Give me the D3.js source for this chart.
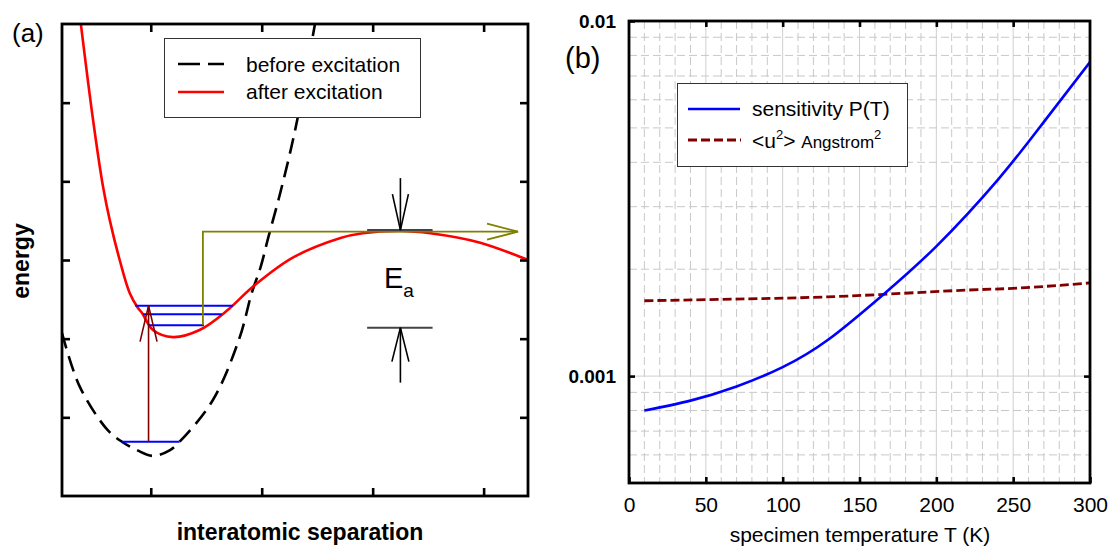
<!DOCTYPE html>
<html>
<head>
<meta charset="utf-8">
<script src="https://cdn.jsdelivr.net/npm/d3@7"></script>
<style>
  body { margin: 0; background: #fff; }
  svg { display: block; font-family: Arial, "Liberation Sans", sans-serif; }
</style>
</head>
<body>
<div id="chart"></div>
<script>
// ---- panel (a): potential curves, in arbitrary units ----
const beforeX = [0.20, 0.36, 0.61, 0.74, 0.88, 1.02, 1.17, 1.26, 1.56, 1.80, 1.91, 1.99, 2.06, 2.15, 2.24, 2.32, 2.48];
const beforeY = [2.07, 1.39, 0.84, 0.69, 0.58, 0.51, 0.58, 0.69, 1.22, 2.01, 2.58, 2.91, 3.29, 3.76, 4.27, 4.78, 6.00];
const afterX = [0.37, 0.48, 0.57, 0.63, 0.72, 0.81, 0.88, 0.92, 1.02, 1.20, 1.44, 1.69, 1.92, 2.28, 2.71, 2.91, 3.25, 3.52, 3.97, 4.40];
const afterY = [6.00, 4.78, 3.93, 3.51, 3.00, 2.58, 2.40, 2.33, 2.11, 2.02, 2.11, 2.36, 2.66, 3.03, 3.28, 3.34, 3.37, 3.34, 3.22, 3.00];
// vibrational levels
const levelX1 = [0.86, 0.93, 0.98, 0.74];
const levelX2 = [1.74, 1.64, 1.48, 1.26];
const levelY = [2.42, 2.31, 2.17, 0.69];
// excitation arrow, escape path, activation energy
const exciteX = 0.98, exciteFrom = 0.69, exciteTo = 2.42;
const escapeX = 1.47, escapeFrom = 2.17, escapeTop = 3.36, escapeEnd = 4.31;
const eaX = 3.25, eaTop = 3.38, eaBottom = 2.14, eaBarX = [2.95, 3.54];
const tickA = [1, 2, 3, 4], tickAy = [1, 2, 3, 4, 5];

// ---- panel (b): temperature dependence ----
const sensT = [10, 40, 70, 100, 130, 165, 200, 240, 270, 300];
const sensP = [0.00080, 0.000853, 0.000935, 0.00106, 0.00127, 0.00169, 0.00232, 0.00357, 0.0052, 0.00766];
const u2T = [10, 77, 142, 211, 254, 300];
const u2V = [0.00163, 0.00165, 0.00168, 0.00174, 0.00177, 0.00183];
const tempTicks = [0, 50, 100, 150, 200, 250, 300];
const logTicks = [0.001, 0.01];

const svg = d3.select("#chart").append("svg")
    .attr("width", 1108)
    .attr("height", 548);

// ================= panel (a) =================
const xL = d3.scaleLinear().domain([0.2, 4.4]).range([62, 528]);
const yL = d3.scaleLinear().domain([0, 6]).range([496, 24]);

svg.append("clipPath").attr("id", "clipA").append("rect")
    .attr("x", 62).attr("y", 24).attr("width", 466).attr("height", 472);

const lineA = d3.line()
    .curve(d3.curveCatmullRom.alpha(0.5))
    .x(d => xL(d[0])).y(d => yL(d[1]));

const gA = svg.append("g").attr("clip-path", "url(#clipA)");

gA.append("path")
    .datum(beforeX.map((x, i) => [x, beforeY[i]]))
    .attr("d", lineA)
    .attr("fill", "none").attr("stroke", "#000")
    .attr("stroke-width", 2.6).attr("stroke-dasharray", "16,8");

gA.append("path")
    .datum(afterX.map((x, i) => [x, afterY[i]]))
    .attr("d", lineA)
    .attr("fill", "none").attr("stroke", "#ff0000")
    .attr("stroke-width", 2.6);

gA.selectAll(".level")
    .data(levelY)
    .enter().append("line")
    .attr("class", "level")
    .attr("x1", (d, i) => xL(levelX1[i]))
    .attr("x2", (d, i) => xL(levelX2[i]))
    .attr("y1", d => yL(d)).attr("y2", d => yL(d))
    .attr("stroke", "#0000ff").attr("stroke-width", 2);

// open V arrowhead pointing at (x,y), direction given by dx,dy (unit)
function arrowHead(g, x, y, dx, dy, len, half, color, w) {
    const bx = x - dx * len, by = y - dy * len;
    g.append("path")
        .attr("d", `M${bx - dy * half},${by + dx * half}L${x},${y}L${bx + dy * half},${by - dx * half}`)
        .attr("fill", "none").attr("stroke", color).attr("stroke-width", w);
}

// excitation arrow
gA.append("line")
    .attr("x1", xL(exciteX)).attr("x2", xL(exciteX))
    .attr("y1", yL(exciteFrom)).attr("y2", yL(exciteTo))
    .attr("stroke", "#800000").attr("stroke-width", 1.6);
arrowHead(gA, xL(exciteX), yL(exciteTo), 0, -1, 36, 8.5, "#800000", 1.6);

// escape path
gA.append("path")
    .attr("d", `M${xL(escapeX)},${yL(escapeFrom)}V${yL(escapeTop)}H${xL(escapeEnd)}`)
    .attr("fill", "none").attr("stroke", "#808000").attr("stroke-width", 1.8);
arrowHead(gA, xL(escapeEnd), yL(escapeTop), 1, 0, 31, 8, "#808000", 1.8);

// activation energy markers
[eaTop, eaBottom].forEach(v => {
    gA.append("line")
        .attr("x1", xL(eaBarX[0])).attr("x2", xL(eaBarX[1]))
        .attr("y1", yL(v)).attr("y2", yL(v))
        .attr("stroke", "#444").attr("stroke-width", 2);
});
gA.append("line")
    .attr("x1", xL(eaX)).attr("x2", xL(eaX))
    .attr("y1", yL(eaTop) - 52).attr("y2", yL(eaTop))
    .attr("stroke", "#000").attr("stroke-width", 1.6);
arrowHead(gA, xL(eaX), yL(eaTop), 0, 1, 36, 8, "#000", 1.6);
gA.append("line")
    .attr("x1", xL(eaX)).attr("x2", xL(eaX))
    .attr("y1", yL(eaBottom) + 55).attr("y2", yL(eaBottom))
    .attr("stroke", "#000").attr("stroke-width", 1.6);
arrowHead(gA, xL(eaX), yL(eaBottom), 0, -1, 34, 8.5, "#000", 1.6);

const eaText = svg.append("text")
    .attr("x", 384).attr("y", 288)
    .attr("font-size", 29).attr("fill", "#000");
eaText.append("tspan").text("E");
eaText.append("tspan").attr("font-size", 19).attr("dy", 9).text("a");

// ticks and frame
function noDomain(g) { g.select(".domain").remove(); }
const tickStyle = g => g.selectAll(".tick line").attr("stroke", "#000").attr("stroke-width", 2.6);
svg.append("g").attr("transform", "translate(0,496)")
    .call(d3.axisBottom(xL).tickValues(tickA).tickSize(-8).tickFormat(""))
    .call(noDomain).call(tickStyle);
svg.append("g").attr("transform", "translate(0,24)")
    .call(d3.axisTop(xL).tickValues(tickA).tickSize(-8).tickFormat(""))
    .call(noDomain).call(tickStyle);
svg.append("g").attr("transform", "translate(62,0)")
    .call(d3.axisLeft(yL).tickValues(tickAy).tickSize(-8).tickFormat(""))
    .call(noDomain).call(tickStyle);
svg.append("g").attr("transform", "translate(528,0)")
    .call(d3.axisRight(yL).tickValues(tickAy).tickSize(-8).tickFormat(""))
    .call(noDomain).call(tickStyle);
svg.append("rect")
    .attr("x", 62).attr("y", 24).attr("width", 466).attr("height", 472)
    .attr("fill", "none").attr("stroke", "#000").attr("stroke-width", 2.8);

// legend (a)
const legA = svg.append("g");
legA.append("rect")
    .attr("x", 164.5).attr("y", 38.5).attr("width", 256).attr("height", 79)
    .attr("fill", "#fff").attr("stroke", "#333").attr("stroke-width", 1);
legA.append("line").attr("x1", 178).attr("x2", 224).attr("y1", 64).attr("y2", 64)
    .attr("stroke", "#000").attr("stroke-width", 2.6).attr("stroke-dasharray", "22,8");
legA.append("line").attr("x1", 178).attr("x2", 224).attr("y1", 92).attr("y2", 92)
    .attr("stroke", "#ff0000").attr("stroke-width", 2.6);
legA.append("text").attr("x", 246).attr("y", 72).attr("font-size", 21).text("before excitation");
legA.append("text").attr("x", 246).attr("y", 99).attr("font-size", 21).text("after excitation");

svg.append("text").attr("x", 12).attr("y", 42).attr("font-size", 26).text("(a)");
svg.append("text")
    .attr("transform", "translate(29,261) rotate(-90)")
    .attr("text-anchor", "middle").attr("font-size", 23).attr("font-weight", "bold")
    .text("energy");
svg.append("text")
    .attr("x", 300).attr("y", 540)
    .attr("text-anchor", "middle").attr("font-size", 23).attr("font-weight", "bold")
    .text("interatomic separation");

// ================= panel (b) =================
const xR = d3.scaleLinear().domain([0, 300]).range([629, 1090]);
const yR = d3.scaleLog().domain([0.0005, 0.01]).range([483, 21]);

const grid = svg.append("g");
d3.range(10, 300, 10).forEach(t => {
    grid.append("line")
        .attr("x1", xR(t)).attr("x2", xR(t)).attr("y1", 21).attr("y2", 483)
        .attr("stroke", t % 50 === 0 ? "#cfcfcf" : "#c8c8c8")
        .attr("stroke-width", 1)
        .attr("stroke-dasharray", t % 50 === 0 ? null : "8,4");
});
const minorV = d3.range(6, 10).map(k => k * 1e-4).concat(d3.range(2, 10).map(k => k * 1e-3));
minorV.concat([0.001]).forEach(v => {
    grid.append("line")
        .attr("x1", 629).attr("x2", 1090).attr("y1", yR(v)).attr("y2", yR(v))
        .attr("stroke", v === 0.001 ? "#cfcfcf" : "#c8c8c8")
        .attr("stroke-width", 1)
        .attr("stroke-dasharray", v === 0.001 ? null : "8,4");
});

svg.append("clipPath").attr("id", "clipB").append("rect")
    .attr("x", 629).attr("y", 21).attr("width", 461).attr("height", 462);
const gB = svg.append("g").attr("clip-path", "url(#clipB)");

const lineB = d3.line()
    .curve(d3.curveNatural)
    .x(d => xR(d[0])).y(d => yR(d[1]));

gB.append("path")
    .datum(u2T.map((t, i) => [t, u2V[i]]))
    .attr("d", lineB)
    .attr("fill", "none").attr("stroke", "#800000")
    .attr("stroke-width", 2.8).attr("stroke-dasharray", "9,4");
gB.append("path")
    .datum(sensT.map((t, i) => [t, sensP[i]]))
    .attr("d", lineB)
    .attr("fill", "none").attr("stroke", "#0000ff")
    .attr("stroke-width", 2.6);

const tickStyleB = g => g.selectAll(".tick line").attr("stroke", "#000").attr("stroke-width", 2.6);
svg.append("g").attr("transform", "translate(0,483)")
    .call(d3.axisBottom(xR).tickValues(tempTicks).tickSize(-6).tickPadding(14))
    .call(noDomain).call(tickStyleB)
    .call(g => g.selectAll("text").attr("font-size", 21).attr("font-family", "Arial, 'Liberation Sans', sans-serif").attr("fill", "#000"));
svg.append("g").attr("transform", "translate(0,21)")
    .call(d3.axisTop(xR).tickValues(tempTicks.slice(1, -1)).tickSize(-6).tickFormat(""))
    .call(noDomain).call(tickStyleB);
svg.append("g").attr("transform", "translate(629,0)")
    .call(d3.axisLeft(yR).tickValues(logTicks).tickSize(-6).tickPadding(13).tickFormat(d => String(d)))
    .call(noDomain).call(tickStyleB)
    .call(g => g.selectAll("text").attr("font-size", 19).attr("font-weight", "bold")
        .attr("font-family", "Arial, 'Liberation Sans', sans-serif").attr("fill", "#000"));
svg.append("g").attr("transform", "translate(1090,0)")
    .call(d3.axisRight(yR).tickValues([0.001]).tickSize(-6).tickFormat(""))
    .call(noDomain).call(tickStyleB);
svg.append("rect")
    .attr("x", 629).attr("y", 21).attr("width", 461).attr("height", 462)
    .attr("fill", "none").attr("stroke", "#000").attr("stroke-width", 2.8);

// legend (b)
const legB = svg.append("g");
legB.append("rect")
    .attr("x", 677.5).attr("y", 83.5).attr("width", 230).attr("height", 83)
    .attr("fill", "#fff").attr("stroke", "#333").attr("stroke-width", 1);
legB.append("line").attr("x1", 688).attr("x2", 740).attr("y1", 109).attr("y2", 109)
    .attr("stroke", "#0000ff").attr("stroke-width", 2.6);
legB.append("line").attr("x1", 688).attr("x2", 741).attr("y1", 140).attr("y2", 140)
    .attr("stroke", "#800000").attr("stroke-width", 2.8).attr("stroke-dasharray", "9,4");
legB.append("text").attr("x", 752).attr("y", 116).attr("font-size", 21).text("sensitivity P(T)");
const u2Text = legB.append("text").attr("x", 752).attr("y", 148).attr("font-size", 21);
u2Text.append("tspan").text("<u");
u2Text.append("tspan").attr("font-size", 13).attr("dy", -9).text("2");
u2Text.append("tspan").attr("dy", 9).text("> ");
u2Text.append("tspan").attr("font-size", 17).text("Angstrom");
u2Text.append("tspan").attr("font-size", 13).attr("dy", -9).text("2");

svg.append("text").attr("x", 565).attr("y", 68).attr("font-size", 29).text("(b)");
svg.append("text")
    .attr("x", 860).attr("y", 542)
    .attr("text-anchor", "middle").attr("font-size", 21)
    .text("specimen temperature T (K)");
</script>
</body>
</html>
